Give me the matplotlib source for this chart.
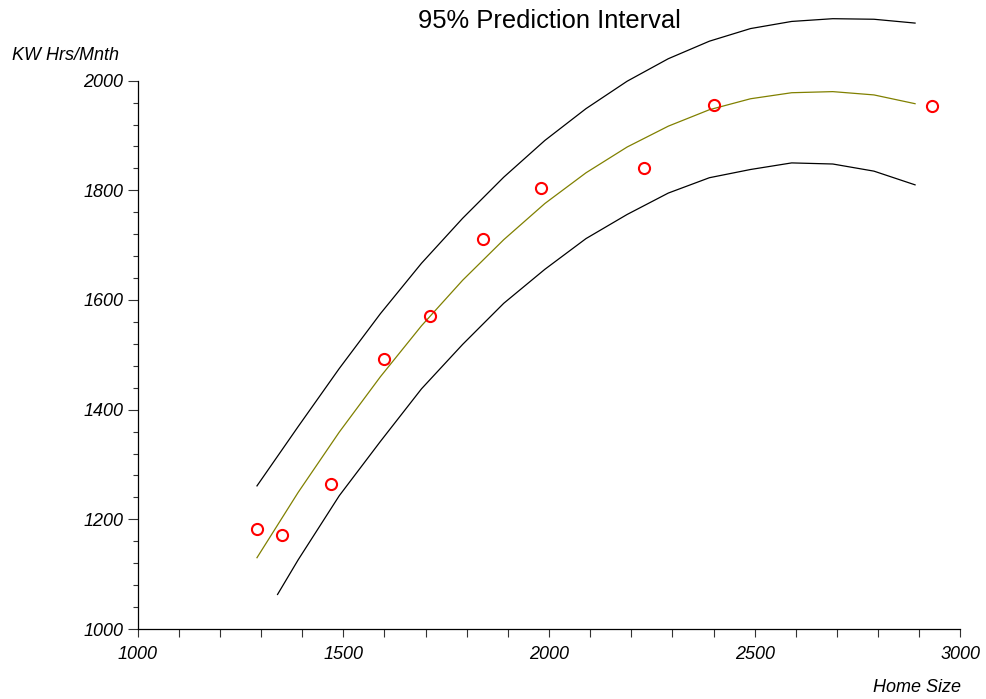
import matplotlib
matplotlib.use("Agg")
import matplotlib.pyplot as plt
from matplotlib.ticker import MultipleLocator

plt.rcParams['font.family'] = ['Liberation Sans', 'DejaVu Sans']

# Observed data
home_size = [1290, 1350, 1470, 1600, 1710, 1840, 1980, 2230, 2400, 2930]
kwh = [1182, 1172, 1264, 1493, 1571, 1711, 1804, 1840, 1956, 1954]

# Fitted curve and upper 95% prediction limit
grid_x = [1290, 1390, 1490, 1590, 1690, 1790, 1890, 1990, 2090,
          2190, 2290, 2390, 2490, 2590, 2690, 2790, 2890]
fit_y = [1130, 1249, 1359, 1460, 1553, 1636, 1710, 1776, 1832,
         1879, 1917, 1947, 1967, 1978, 1980, 1974, 1958]
upper_y = [1261, 1369, 1475, 1575, 1667, 1749, 1824, 1891, 1949,
           1999, 2040, 2072, 2095, 2108, 2113, 2112, 2105]

# Lower 95% prediction limit
lower_x = [1340, 1390, 1490, 1590, 1690, 1790, 1890, 1990, 2090,
           2190, 2290, 2390, 2490, 2590, 2690, 2790, 2890]
lower_y = [1063, 1126, 1243, 1342, 1438, 1519, 1594, 1656, 1712,
           1756, 1795, 1823, 1838, 1850, 1848, 1835, 1810]

title = "95% Prediction Interval"
x_label = "Home Size"
y_label = "KW Hrs/Mnth"

W, H = 986, 699
fig = plt.figure(figsize=(W / 100, H / 100), dpi=100)
fig.patch.set_facecolor('white')

ax_left, ax_right = 137.7, 960.3
ax_bottom_px, ax_top_px = 629.0, 17.6
ax = fig.add_axes([ax_left / W, 1 - ax_bottom_px / H,
                   (ax_right - ax_left) / W, (ax_bottom_px - ax_top_px) / H])

ax.plot(grid_x, upper_y, color='black', lw=0.9)
ax.plot(lower_x, lower_y, color='black', lw=0.9)
ax.plot(grid_x, fit_y, color='#808000', lw=0.9)
ax.plot(home_size, kwh, linestyle='none', marker='o', markersize=8,
        markerfacecolor='none', markeredgecolor='#ff0000', markeredgewidth=1.5,
        clip_on=False, zorder=5)

ax.set_xlim(1000, 3000)
ax.set_ylim(1000, 2115)

for s in ['top', 'right']:
    ax.spines[s].set_visible(False)
ax.spines['left'].set_bounds(1000, 2000)
ax.spines['bottom'].set_bounds(1000, 3000)
for s in ['left', 'bottom']:
    ax.spines[s].set_linewidth(0.9)
    ax.spines[s].set_color('black')

ax.xaxis.set_major_locator(MultipleLocator(500))
ax.xaxis.set_minor_locator(MultipleLocator(100))
ax.set_yticks([1000, 1200, 1400, 1600, 1800, 2000])
ax.set_yticks([v for v in range(1000, 2001, 40) if v % 200], minor=True)

ax.tick_params(axis='x', which='major', direction='out', length=5.5, width=0.8,
               color='#333333', pad=7, labelsize=13)
ax.tick_params(axis='x', which='minor', direction='out', length=5.5, width=0.8,
               color='#333333')
ax.tick_params(axis='y', which='major', direction='out', length=7.5, width=0.8,
               color='#333333', pad=3, labelsize=13)
ax.tick_params(axis='y', which='minor', direction='out', length=3.8, width=0.8,
               color='#333333')
for lab in ax.get_xticklabels() + ax.get_yticklabels():
    lab.set_fontstyle('italic')

fig.text(549 / W, 1 - 21 / H, title, ha='center', va='center', fontsize=18.4)
fig.text(12 / W, 1 - 55 / H, y_label, ha='left', va='center', fontsize=13,
         fontstyle='italic')
fig.text(961 / W, 1 - 688 / H, x_label, ha='right', va='center', fontsize=13,
         fontstyle='italic')

fig.savefig('out.png', dpi=100, facecolor='white')
